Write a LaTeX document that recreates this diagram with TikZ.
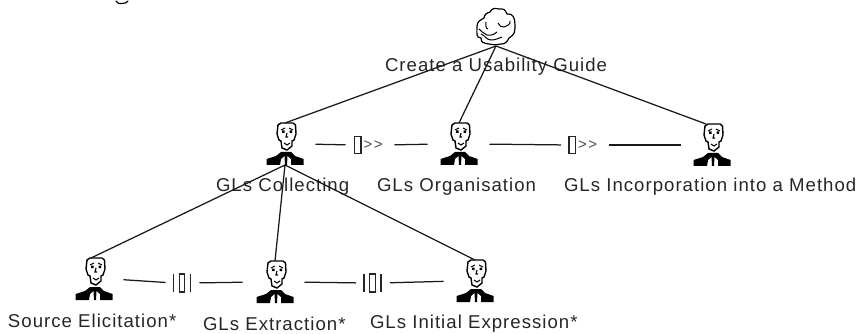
\documentclass[tikz,border=0pt]{standalone}
\usepackage{fontspec}
\setmainfont[LetterSpace=5.5]{Liberation Sans}
\newfontfamily\opfont{Liberation Sans}
\tikzset{
  x=1pt,y=1pt,
  manbox/.style={minimum width=37pt,minimum height=42pt,inner sep=0pt,outer sep=0pt},
  cloudbox/.style={minimum width=39pt,minimum height=38pt,inner sep=0pt,outer sep=0pt},
  opbox/.style={minimum width=30pt,minimum height=18pt,inner sep=0pt,outer sep=0pt},
  parbox/.style={minimum width=17pt,minimum height=18pt,inner sep=0pt,outer sep=0pt},
  lbl/.style={anchor=base west,inner sep=0pt,outer sep=0pt,font=\fontsize{18.6}{20}\selectfont,text=black!85},
  link/.style={line width=1.25pt,draw=black!90},
  seqsign/.style={anchor=west,inner sep=0pt,font=\opfont\fontsize{15}{15}\selectfont,text=black!70},
  man/.pic={
    \draw[line width=1.4pt,fill=white,line join=miter]
      (-7,19)--(-4,21)--(8,21)--(10.5,19)--(11,10)--(9,4)--(7,3)--(7,-2)--(2,-6)--(-3,-4)--(-4,3)--(-6,4)--(-8,10)--cycle;
    \draw[line width=1.1pt] (-4,14)--(0,16) (4,16)--(8,14) (2,11)--(1,7)--(3,7) (-1,1)--(2,-1)--(5,1);
    \fill (-3,11) rectangle (-.5,13.5) (4.5,11) rectangle (7,13.5);
    \fill (-18.5,-21)--(-18.5,-15)--(-9,-12)--(-4,-8)--(6,-8)--(10,-12)--(18.5,-15)--(18.5,-21)--(6,-21)--(6,-15)--(2.5,-12)--(2,-21)--(0,-21)--(-.5,-12)--(-4,-15)--(-5,-21)--cycle;
  },
  cloudshape/.pic={
    \draw[line width=1.2pt,line join=miter]
      (-7,-17) to[out=170,in=270,looseness=1.3] (-15,-11)
      to[out=180,in=270,looseness=1.2] (-19,0)
      to[out=90,in=210,looseness=1.2] (-12,9)
      to[out=80,in=200,looseness=1.2] (-6,15)
      to[out=60,in=170,looseness=1.3] (3,18)
      to[out=10,in=110,looseness=1.2] (11,13)
      to[out=10,in=90,looseness=1.2] (19,2)
      to[out=270,in=30,looseness=1.2] (13,-11)
      to[out=240,in=0,looseness=1.2] (5,-17)
      to[out=190,in=-10,looseness=1.2] cycle;
    \draw[line width=1pt]
      (-15,-7) to[out=-20,in=180] (-5,-13) to[out=0,in=200] (6,-10)
      (-17,-2) to[out=-30,in=170] (-9,-8) to[out=-10,in=220] (1,-5)
      (-10,5) to[out=-90,in=170] (-8,-2)
      (2,4) to[out=-60,in=200] (8,0) to[out=20,in=-70] (14,6);
  },
}
\begin{document}
\begin{tikzpicture}
\useasboundingbox (0,0) rectangle (857,-334);
% nodes
\node[cloudbox] (top) at (496,-27) {};
\pic at (top) {cloudshape};
\node[manbox] (m1) at (285,-144) {};
\node[manbox] (m2) at (459,-144) {};
\node[manbox] (m3) at (712,-145) {};
\node[manbox] (s1) at (94,-279) {};
\node[manbox] (s2) at (275,-282) {};
\node[manbox] (s3) at (475,-281) {};
\foreach \n in {m1,m2,m3,s1,s2,s3} {\pic at (\n) {man};}
% operators
\node[opbox] (o1) at (369.5,-145) {};
\node[opbox] (o2) at (584,-145) {};
\node[parbox] (p1) at (182,-283) {};
\node[parbox] (p2) at (372.5,-283) {};
\foreach \n in {o1,o2} {
  \draw[line width=1.3pt,draw=black!85] ([xshift=0pt,yshift=-8.5pt]\n.west) rectangle ++(6.5,17);
  \node[seqsign] at ([xshift=9pt]\n.west) {>\kern1.5pt>};
}
\foreach \n in {p1,p2} {
  \draw[line width=1.3pt,draw=black!85]
    ([yshift=-9pt]\n.west) -- ++(0,18)
    ([xshift=5.8pt,yshift=-9pt]\n.west) rectangle ++(5.4,18)
    ([yshift=-9pt]\n.east) -- ++(0,18);
}
% labels
\node[lbl] (t0) at (385,-72) {Create a Usability Guide};
\node[lbl] (t1) at (216,-192) {GLs Collecting};
\node[lbl] (t2) at (377,-191) {GLs Organisation};
\node[lbl] (t3) at (564,-191) {GLs Incorporation into a Method};
\node[lbl] (t4) at (8,-327) {Source Elicitation*};
\node[lbl] (t5) at (203,-330) {GLs Extraction*};
\node[lbl] (t6) at (370,-328) {GLs Initial Expression*};
% connectors
\draw[link] (top.south) -- (m1.north);
\draw[link] (top.south) -- (m2.north);
\draw[link] (top.south) -- ([xshift=-6pt]m3.north);
\draw[link] (m1.south) -- ([xshift=-3pt]s1.north);
\draw[link] (m1.south) -- (s2.north);
\draw[link] (m1.south) -- (s3.north);
\draw[link,shorten <=12pt,shorten >=9pt] (m1.east) -- (o1.west);
\draw[link,shorten <=10pt,shorten >=13pt] (o1.east) -- (m2.west);
\draw[link,shorten <=12pt,shorten >=8pt] (m2.east) -- (o2.west);
\draw[link,shorten <=10pt,shorten >=13pt] (o2.east) -- (m3.west);
\draw[link,shorten <=11pt,shorten >=8pt] (s1.east) -- (p1.west);
\draw[link,shorten <=9pt,shorten >=14pt] (p1.east) -- (s2.west);
\draw[link,shorten <=11pt,shorten >=8pt] (s2.east) -- (p2.west);
\draw[link,shorten <=9pt,shorten >=13pt] (p2.east) -- (s3.west);
% clipped descender at the top edge of the picture
\draw[line width=1.2pt,line cap=round] (116,-1) to[out=-60,in=200] (122,-3.5) to[out=20,in=-100] (128,-1);
\end{tikzpicture}
\end{document}
